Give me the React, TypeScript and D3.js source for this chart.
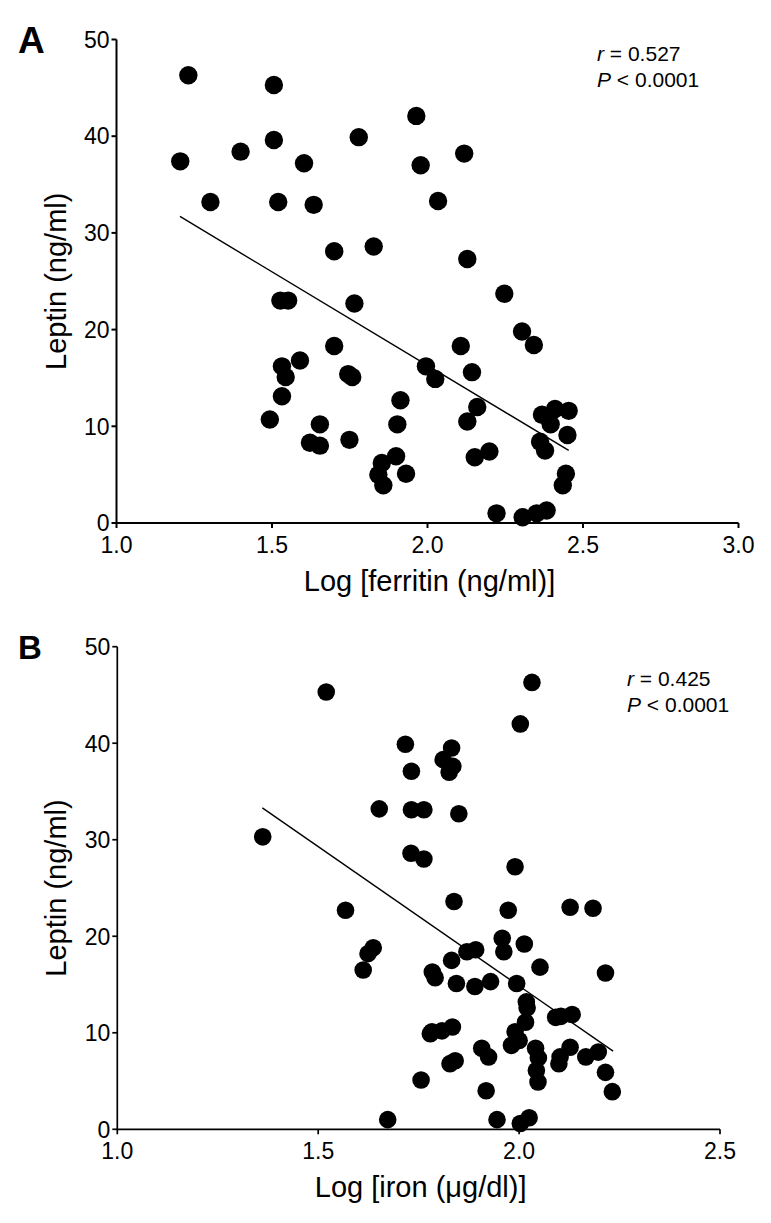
import { scaleLinear, format } from 'd3'

// Panel A: leptin vs log ferritin
const logFerritin = [
  1.231, 1.205, 1.399, 1.302, 1.506, 1.506, 1.603, 1.779, 1.964, 1.978, 2.118, 1.52, 1.634, 2.034,
  1.7, 1.827, 2.128, 1.527, 1.552, 1.765, 1.7, 1.59, 1.532, 1.544, 1.745, 1.758, 1.532, 1.493,
  1.654, 1.622, 1.654, 1.749, 2.247, 2.304, 2.342, 2.107, 1.995, 2.025, 2.143, 1.913, 1.903, 2.16,
  2.128, 2.368, 2.41, 2.454, 2.396, 2.45, 2.362, 2.378, 2.199, 2.152, 1.853, 1.899, 1.842, 1.858,
  1.931, 2.445, 2.435, 2.222, 2.306, 2.351, 2.383,
]
const leptinA = [
  46.3, 37.4, 38.4, 33.2, 45.3, 39.6, 37.2, 39.9, 42.1, 37.0, 38.2, 33.2, 32.9, 33.3,
  28.1, 28.6, 27.3, 23.0, 23.0, 22.7, 18.3, 16.8, 16.2, 15.1, 15.4, 15.1, 13.1, 10.7,
  10.2, 8.3, 8.0, 8.6, 23.7, 19.8, 18.4, 18.3, 16.2, 14.9, 15.6, 12.7, 10.2, 12.0,
  10.5, 11.2, 11.8, 11.6, 10.2, 9.1, 8.4, 7.5, 7.4, 6.8, 6.2, 6.9, 5.0, 3.9,
  5.1, 5.1, 3.9, 1.0, 0.6, 1.0, 1.3,
]

// Panel B: leptin vs log iron
const logIron = [
  2.032, 1.52, 2.003, 1.717, 1.832, 1.811, 1.835, 1.826, 1.732, 1.652, 1.732, 1.763, 1.85, 1.362,
  1.731, 1.763, 1.99, 1.568, 1.838, 1.973, 2.127, 2.184, 1.958, 1.962, 2.013, 1.637, 1.624, 1.612,
  1.87, 1.892, 1.832, 2.052, 2.215, 1.784, 1.791, 1.844, 1.89, 1.929, 1.994, 2.018, 2.02, 2.016,
  2.091, 2.104, 2.132, 1.779, 1.783, 1.808, 1.834, 1.99, 2.0, 1.981, 1.907, 1.924, 2.041, 2.048,
  2.043, 2.047, 2.102, 2.127, 2.099, 2.166, 2.197, 2.215, 2.232, 1.828, 1.841, 1.756, 1.918, 1.673,
  1.945, 2.003, 2.025,
]
const leptinB = [
  46.3, 45.3, 42.0, 39.9, 39.5, 38.3, 37.6, 37.0, 37.1, 33.2, 33.1, 33.1, 32.7, 30.3,
  28.6, 28.0, 27.2, 22.7, 23.6, 22.7, 23.0, 22.9, 19.8, 18.4, 19.2, 18.8, 18.2, 16.5,
  18.4, 18.6, 17.5, 16.8, 16.2, 16.3, 15.7, 15.1, 14.8, 15.3, 15.1, 13.2, 12.6, 11.1,
  11.6, 11.7, 11.9, 9.9, 10.1, 10.2, 10.6, 10.1, 9.2, 8.7, 8.4, 7.5, 8.4, 7.4,
  6.1, 4.9, 7.5, 8.5, 6.8, 7.5, 8.0, 5.9, 3.9, 6.8, 7.1, 5.1, 4.0, 1.0,
  1.0, 0.6, 1.2,
]

// regression lines: [x start, x end], [slope, intercept]
const fitExtentA = [1.204, 2.454]
const fitCoefA = [-19.36, 55.01]
const fitExtentB = [1.361, 2.234]
const fitCoefB = [-28.87, 72.59]

const xTicksA = [1.0, 1.5, 2.0, 2.5, 3.0]
const xTicksB = [1.0, 1.5, 2.0, 2.5]
const yTicks = [0, 10, 20, 30, 40, 50]

const FONT = '"Liberation Sans", Arial, Helvetica, sans-serif'
const fmt = format('.1f')

type PanelProps = {
  letter: string
  letterSize: number
  letterY: number
  xs: number[]
  ys: number[]
  xDomain: [number, number]
  xRange: [number, number]
  yRange: [number, number]
  xTicks: number[]
  fitExtent: number[]
  fitCoef: number[]
  xTitle: React.ReactNode
  r: string
  statX: number
  statY: number
  axisWidth: number
  dotR: number
}

function Panel(p: PanelProps) {
  const x = scaleLinear().domain(p.xDomain).range(p.xRange)
  const y = scaleLinear().domain([0, 50]).range(p.yRange)
  const [x0, x1] = p.xRange
  const [yb, yt] = p.yRange
  const [m, b] = p.fitCoef
  const midX = (x0 + x1) / 2
  const midY = (yb + yt) / 2

  return (
    <g fontFamily={FONT} fill="#000">
      <text x={18} y={p.letterY} fontSize={p.letterSize} fontWeight="bold">
        {p.letter}
      </text>

      {/* y axis */}
      <line x1={x0} x2={x0} y1={yb} y2={yt} stroke="#000" strokeWidth={p.axisWidth} />
      {yTicks.map((t) => (
        <g key={t}>
          <line x1={x0 - 5} x2={x0} y1={y(t)} y2={y(t)} stroke="#000" strokeWidth={p.axisWidth} />
          <text x={x0 - 7} y={y(t)} dy="0.36em" fontSize={23} textAnchor="end">
            {t}
          </text>
        </g>
      ))}
      <text
        transform={`translate(66,${midY}) rotate(-90)`}
        fontSize={29}
        textAnchor="middle"
      >
        Leptin (ng/ml)
      </text>

      {/* x axis */}
      <line x1={x0} x2={x1} y1={yb} y2={yb} stroke="#000" strokeWidth={p.axisWidth} />
      {p.xTicks.map((t) => (
        <g key={t}>
          <line x1={x(t)} x2={x(t)} y1={yb} y2={yb + 5} stroke="#000" strokeWidth={p.axisWidth} />
          <text x={x(t)} y={yb + 30} fontSize={23} textAnchor="middle">
            {fmt(t)}
          </text>
        </g>
      ))}
      <text x={midX + 2} y={yb + 68} fontSize={29} textAnchor="middle">
        {p.xTitle}
      </text>

      {/* points */}
      {p.xs.map((v, i) => (
        <circle key={i} cx={x(v)} cy={y(p.ys[i])} r={p.dotR} fill="#000" />
      ))}

      {/* regression */}
      <line
        x1={x(p.fitExtent[0])}
        x2={x(p.fitExtent[1])}
        y1={y(m * p.fitExtent[0] + b)}
        y2={y(m * p.fitExtent[1] + b)}
        stroke="#000"
        strokeWidth={1.4}
      />

      <text x={p.statX} y={p.statY} fontSize={21}>
        <tspan fontStyle="italic">r</tspan> = {p.r}
      </text>
      <text x={p.statX} y={p.statY + 26} fontSize={21}>
        <tspan fontStyle="italic">P</tspan> &lt; 0.0001
      </text>
    </g>
  )
}

export default function App() {
  return (
    <svg
      width={771}
      height={1223}
      viewBox="0 0 771 1223"
      style={{ position: 'absolute', left: 0, top: 0, background: '#fff' }}
    >
      <Panel
        letter="A"
        letterSize={37}
        letterY={53}
        xs={logFerritin}
        ys={leptinA}
        xDomain={[1, 3]}
        xRange={[116.5, 738.5]}
        yRange={[523, 39.5]}
        xTicks={xTicksA}
        fitExtent={fitExtentA}
        fitCoef={fitCoefA}
        xTitle="Log [ferritin (ng/ml)]"
        r="0.527"
        statX={597}
        statY={61}
        axisWidth={2}
        dotR={9.2}
      />
      <Panel
        letter="B"
        letterSize={33}
        letterY={659}
        xs={logIron}
        ys={leptinB}
        xDomain={[1, 2.5]}
        xRange={[117.3, 720]}
        yRange={[1129.3, 646.7]}
        xTicks={xTicksB}
        fitExtent={fitExtentB}
        fitCoef={fitCoefB}
        xTitle={<>Log [iron (μg/dl)]</>}
        r="0.425"
        statX={627}
        statY={686}
        axisWidth={1.7}
        dotR={8.8}
      />
    </svg>
  )
}
